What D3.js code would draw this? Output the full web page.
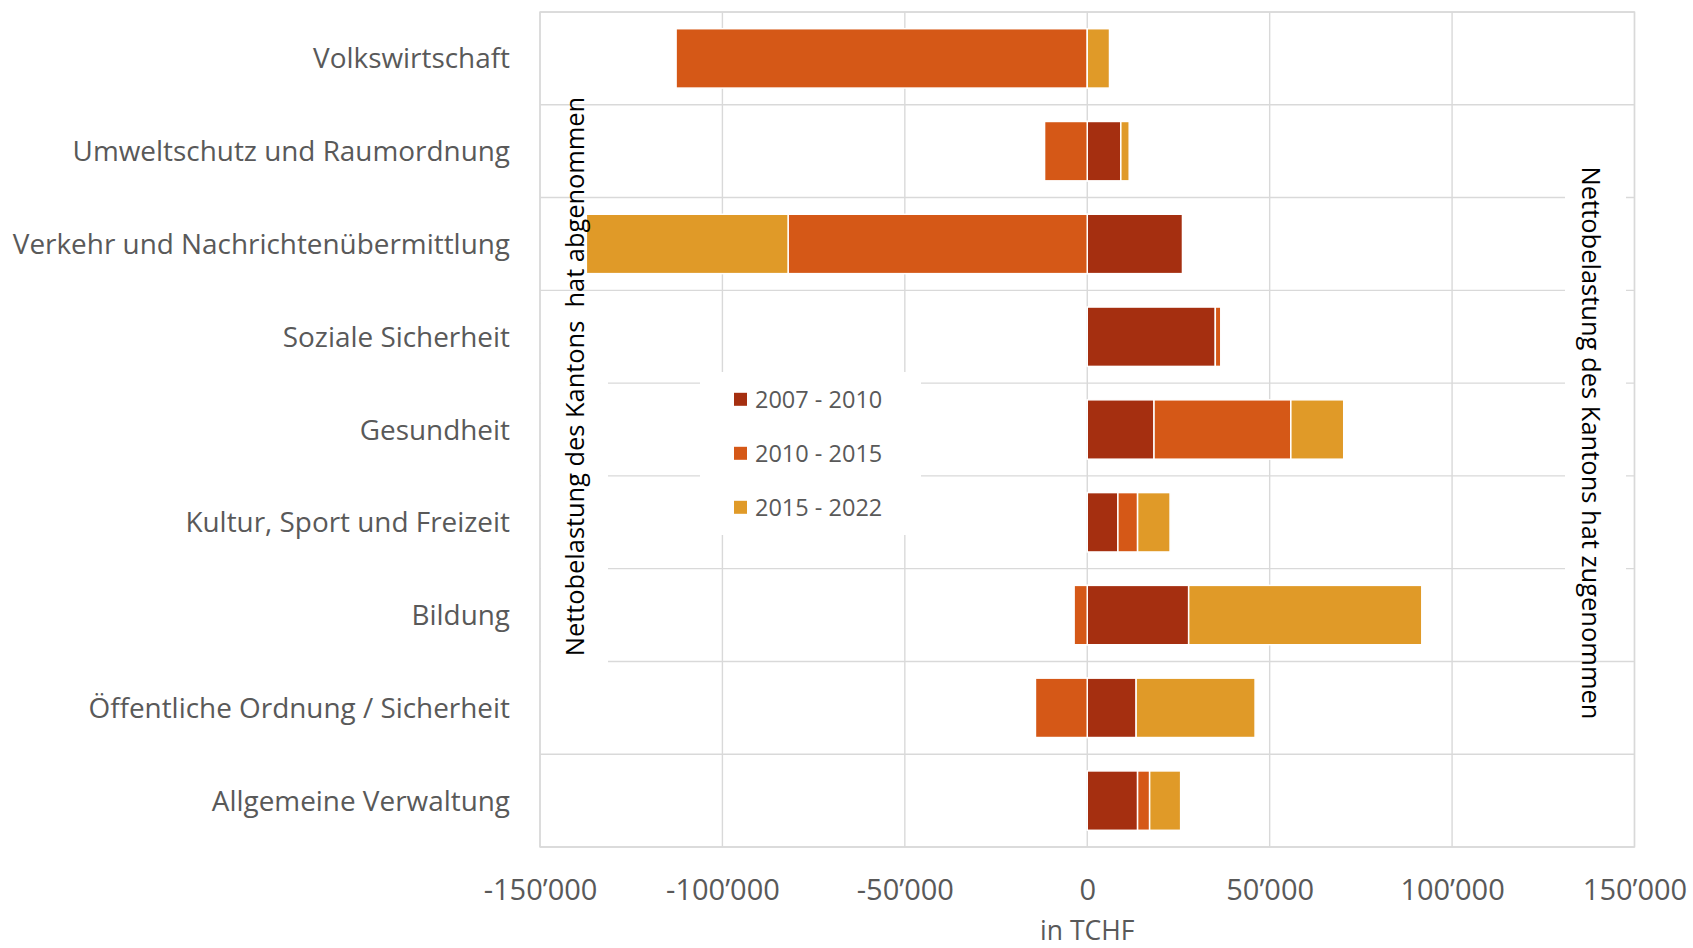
<!DOCTYPE html>
<html>
<head>
<meta charset="utf-8">
<script src="https://cdn.jsdelivr.net/npm/d3@7"></script>
<style>
  html, body { margin: 0; padding: 0; background: #ffffff; }
  svg { display: block; }
  text { font-family: "Open Sans", "Noto Sans", sans-serif; }
</style>
</head>
<body>
<svg id="chart" width="1693" height="948"></svg>
<script>
// Net burden change by function, in thousand CHF
const categories = [
  "Volkswirtschaft",
  "Umweltschutz und Raumordnung",
  "Verkehr und Nachrichtenübermittlung",
  "Soziale Sicherheit",
  "Gesundheit",
  "Kultur, Sport und Freizeit",
  "Bildung",
  "Öffentliche Ordnung / Sicherheit",
  "Allgemeine Verwaltung"
];
const seriesNames = ["2007 - 2010", "2010 - 2015", "2015 - 2022"];
const values2007_2010 = [0, 9200, 26100, 35100, 18300, 8400, 27800, 13400, 13800];
const values2010_2015 = [-112700, -11700, -82000, 1500, 37500, 5400, -3600, -14200, 3300];
const values2015_2022 = [6100, 2300, -55300, 0, 14500, 8900, 63900, 32600, 8500];
const xTicks = [-150000, -100000, -50000, 0, 50000, 100000, 150000];
const seriesColors = ["#a52f10", "#d55817", "#e09a28"];

const axisTitle = "in TCHF";
const leftNote = "Nettobelastung des Kantons  hat abgenommen";
const rightNote = "Nettobelastung des Kantons hat zugenommen";

const rows = categories.map((c, i) => ({
  category: c,
  [seriesNames[0]]: values2007_2010[i],
  [seriesNames[1]]: values2010_2015[i],
  [seriesNames[2]]: values2015_2022[i]
}));

const svg = d3.select("#chart");
const plot = { left: 540, right: 1634.5, top: 12, bottom: 847 };
const gridColor = "#d9d9d9";
const textColor = "#595959";

const x = d3.scaleLinear().domain([-150000, 150000]).range([plot.left, plot.right]);
const y = d3.scaleBand().domain(categories).range([plot.top, plot.bottom])
  .paddingInner(0.36).paddingOuter(0.18);
const bandStep = y.step();

const fmt = d3.formatLocale({ decimal: ".", thousands: "\u2019", grouping: [3], currency: ["", ""], minus: "-" }).format(",d");

// Vertical gridlines at tick positions
svg.append("g").selectAll("line").data(xTicks).join("line")
  .attr("x1", d => x(d)).attr("x2", d => x(d))
  .attr("y1", plot.top).attr("y2", plot.bottom)
  .attr("stroke", gridColor).attr("stroke-width", 1.4);

// Horizontal gridlines between categories
const boundaries = d3.range(categories.length + 1).map(i => plot.top + i * bandStep);
svg.append("g").selectAll("line").data(boundaries).join("line")
  .attr("x1", plot.left).attr("x2", plot.right)
  .attr("y1", d => d).attr("y2", d => d)
  .attr("stroke", gridColor).attr("stroke-width", 1.4);

// Stacked bars, diverging around zero
const stack = d3.stack().keys(seriesNames).offset(d3.stackOffsetDiverging);
const stacked = stack(rows);
svg.append("g").selectAll("g").data(stacked).join("g")
  .attr("fill", (d, i) => seriesColors[i])
  .selectAll("rect").data(d => d.filter(p => p[1] !== p[0])).join("rect")
  .attr("x", d => x(Math.min(d[0], d[1])))
  .attr("width", d => Math.abs(x(d[1]) - x(d[0])))
  .attr("y", d => y(d.data.category))
  .attr("height", y.bandwidth())
  .attr("stroke", "#ffffff").attr("stroke-width", 1.5);

// White panels behind the annotations
svg.append("rect").attr("x", plot.left + 1).attr("y", 320).attr("width", 67).attr("height", 380).attr("fill", "#ffffff");
svg.append("rect").attr("x", 1565).attr("y", 150).attr("width", 61).attr("height", 460).attr("fill", "#ffffff");

// Category labels
svg.append("g").selectAll("text").data(categories).join("text")
  .attr("x", 510)
  .attr("y", d => y(d) + y.bandwidth() / 2)
  .attr("dy", "0.36em")
  .attr("text-anchor", "end")
  .attr("fill", textColor)
  .style("font-size", "27.9px")
  .text(d => d);

// Value axis
const xAxis = svg.append("g")
  .attr("transform", `translate(0,${plot.bottom})`)
  .call(d3.axisBottom(x).tickValues(xTicks).tickSize(0).tickPadding(0).tickFormat(fmt));
xAxis.select(".domain").remove();
xAxis.selectAll("text")
  .attr("y", 53)
  .attr("dy", 0)
  .attr("fill", textColor)
  .style("font-family", "'Open Sans', sans-serif")
  .style("font-size", "29px");

svg.append("text")
  .attr("x", x(0)).attr("y", 940)
  .attr("text-anchor", "middle")
  .attr("fill", textColor)
  .style("font-size", "26.5px")
  .text(axisTitle);

// Legend
const legend = svg.append("g");
legend.append("rect").attr("x", 700).attr("y", 372).attr("width", 221).attr("height", 163).attr("fill", "#ffffff");
const legendItems = legend.selectAll("g.item").data(seriesNames).join("g")
  .attr("class", "item")
  .attr("transform", (d, i) => `translate(734,${399.3 + i * 54})`);
legendItems.append("rect")
  .attr("x", 0).attr("y", -6.5).attr("width", 13).attr("height", 13)
  .attr("fill", (d, i) => seriesColors[i]);
legendItems.append("text")
  .attr("x", 21).attr("y", 0).attr("dy", "0.36em")
  .attr("fill", textColor)
  .style("font-size", "23.5px")
  .text(d => d);

// Side annotations
svg.append("text")
  .attr("transform", "translate(584,376.5) rotate(-90)")
  .attr("text-anchor", "middle")
  .attr("fill", "#000000")
  .style("font-size", "25.4px")
  .style("white-space", "pre")
  .text(leftNote);

svg.append("text")
  .attr("transform", "translate(1581.5,443) rotate(90)")
  .attr("text-anchor", "middle")
  .attr("fill", "#000000")
  .style("font-size", "25.5px")
  .text(rightNote);

// Plot area border
svg.append("rect")
  .attr("x", plot.left).attr("y", plot.top)
  .attr("width", plot.right - plot.left).attr("height", plot.bottom - plot.top)
  .attr("fill", "none").attr("stroke", gridColor).attr("stroke-width", 1.4);
</script>
</body>
</html>
